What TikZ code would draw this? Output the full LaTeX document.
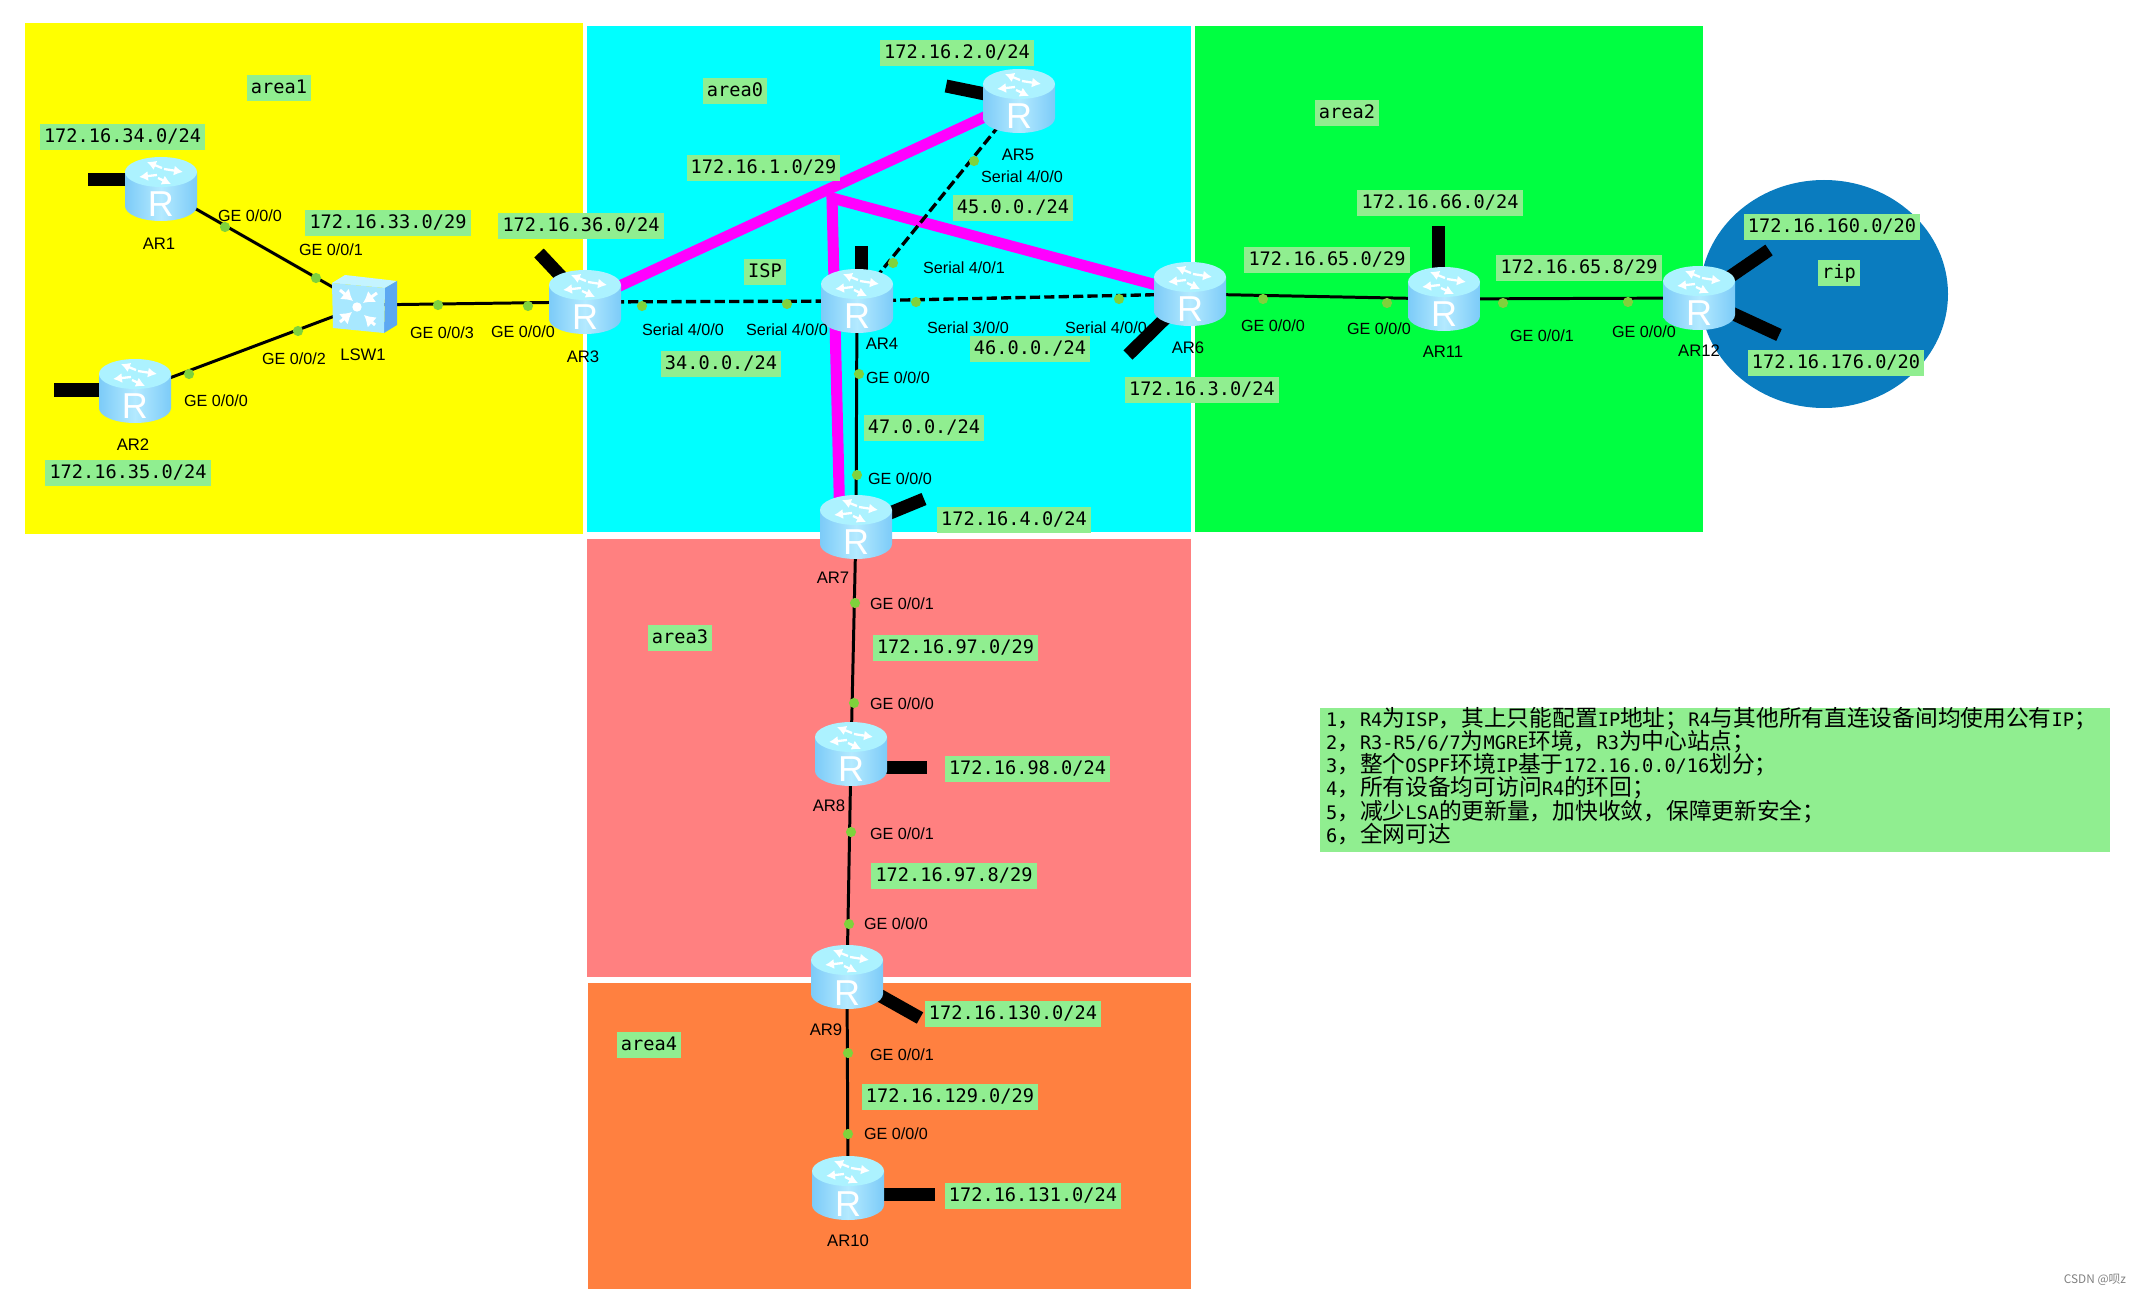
\documentclass[tikz,border=0pt]{standalone}
\usepackage{fontspec}
\setmainfont{Liberation Sans}
\newfontfamily\netfont{DejaVu Sans Mono}
\newfontfamily\cjkfont[Scale=1.22]{Noto Sans CJK SC}
\usetikzlibrary{arrows.meta,backgrounds}
\definecolor{areaone}{HTML}{FFFF00}
\definecolor{areazero}{HTML}{00FFFF}
\definecolor{areatwo}{HTML}{00FF41}
\definecolor{areathree}{HTML}{FF8080}
\definecolor{areafour}{HTML}{FF8040}
\definecolor{ripblue}{HTML}{0A7CBF}
\definecolor{netgreen}{HTML}{90EE90}
\definecolor{portgreen}{HTML}{7FD23C}
\definecolor{mgrepink}{HTML}{FF00FF}
\definecolor{bodyedge}{HTML}{7CCBF8}
\definecolor{bodymid}{HTML}{B4EAFF}
\definecolor{bodytop}{HTML}{ACF2FF}
\definecolor{boxfront}{HTML}{A8E8FF}
\definecolor{boxtop}{HTML}{C4F4FF}
\definecolor{boxside}{HTML}{5CA8F2}
\newcommand{\netsize}{\netfont\fontsize{10.6}{13.15}\selectfont\lineskiplimit=-10pt}
\newcommand{\zh}[1]{{\cjkfont #1}}
\newcommand{\routerart}[2]{%
  \begin{scope}[shift={(#1,#2)}, y=0.02cm]
    \shade[left color=bodyedge, right color=bodyedge, middle color=bodymid]
      (-36,17) -- (-36,-17) arc (180:360:36 and 15) -- (36,17) -- cycle;
    \fill[bodytop] (0,17) ellipse (36 and 15);
    \draw[rarrow] (1,21) -- (-14,27);
    \draw[rarrow] (3,20) -- (22,17);
    \draw[rarrow] (-4,14) -- (-22,12);
    \draw[rarrow] (-3,11) -- (10,5);
  \end{scope}}
\newcommand{\router}[3]{\routerart{#2}{#3}\node[routermark] (#1) at (#2,#3) {R};}
\newcommand{\switchart}[2]{%
  \begin{scope}[shift={(#1,#2)}, y=0.02cm]
    \fill[boxtop] (-32,22) -- (-19,30) -- (33,24) -- (21,17) -- cycle;
    \fill[boxside] (21,17) -- (33,24) -- (33,-20) -- (20,-28) -- cycle;
    \fill[boxfront] (-32,22) -- (21,17) -- (20,-28) -- (-31,-23) -- cycle;
    \fill[white] (-7,-2) circle (4.7);
    \draw[sarrow] (-24,15) -- (-11,4);
    \draw[sarrow] (13,12) -- (-1,2);
    \draw[sarrow] (-24,-17) -- (-12,-7);
    \draw[sarrow] (11,-20) -- (0,-10);
  \end{scope}}
\tikzset{
  rarrow/.style   = {white, line width=1.3pt, -{Latex[length=1.8mm,width=2mm]}},
  sarrow/.style   = {white, line width=1.7pt, -{Latex[length=2.2mm,width=2.8mm]}},
  routermark/.style = {rectangle, inner sep=0pt, minimum width=1.44cm, minimum height=1.28cm,
                     text=white, font=\fontsize{20.5}{20.5}\selectfont, text height=1.12cm,
                     text depth=0pt},
  switchbox/.style = {rectangle, inner sep=0pt, minimum width=1.32cm, minimum height=1.2cm},
  netlbl/.style   = {fill=netgreen, font=\netsize, inner xsep=2.3pt, inner ysep=0pt,
                     minimum height=14.8pt, text height=8pt, text depth=1.5pt, yshift=-0.7pt},
  portlbl/.style  = {font=\fontsize{9.2}{10}\selectfont, inner sep=0pt, yshift=-0.4pt},
  devlbl/.style   = {font=\fontsize{9.5}{10}\selectfont, inner sep=0pt},
  portdot/.style  = {circle, fill=portgreen, inner sep=0pt, minimum size=5.8pt},
  eth/.style      = {line width=1.7pt, black},
  serial/.style   = {line width=1.9pt, black, dash pattern=on 5.8pt off 2.4pt},
  mgre/.style     = {line width=6.3pt, mgrepink, line join=miter},
  stub/.style     = {line width=7.4pt, black},
  notebox/.style  = {font=\netsize, align=left, text width=15.56cm,
                     inner xsep=3pt, inner ysep=0pt, minimum height=2.88cm}
}

\begin{document}
\begin{tikzpicture}[x=0.02cm, y=-0.02cm]
\useasboundingbox (0,0) rectangle (2134,1294);

% ---- areas ----
\begin{scope}[on background layer]
\fill[ripblue] (1824,294) ellipse (124 and 114);
\fill[areaone] (24.5,23) rectangle (582.5,533.5);
\fill[areazero] (587,26) rectangle (1191,532);
\fill[areatwo] (1195,26) rectangle (1703,532);
\fill[areathree] (587,539) rectangle (1191,977);
\fill[areafour] (588,983) rectangle (1191,1289);
\end{scope}

% ---- devices ----
\router{AR1}{161}{189}
\router{AR2}{135}{391}
\router{AR3}{585}{302}
\router{AR4}{857}{301}
\router{AR5}{1019}{101}
\router{AR6}{1190}{294}
\router{AR7}{856}{527}
\router{AR8}{851}{754}
\router{AR9}{847}{977}
\router{AR10}{848}{1188}
\router{AR11}{1444}{299}
\router{AR12}{1699}{298}
\switchart{364}{305}
\node[switchbox] (LSW1) at (364,305) {};

% ---- free ends ----
\coordinate (stubA) at (88,180);
\coordinate (stubB) at (54,390);
\coordinate (stubC) at (539,253);
\coordinate (stubD) at (861,246);
\coordinate (stubE) at (946,86);
\coordinate (stubF) at (1128,355);
\coordinate (stubG) at (924,499);
\coordinate (stubH) at (927,767);
\coordinate (stubI) at (920,1018);
\coordinate (stubJ) at (935,1194);
\coordinate (stubK) at (1438,226);
\coordinate (stubL) at (1769,250);
\coordinate (stubM) at (1779,335);
\coordinate (mgreknee) at (832,198);
\coordinate (mgrefoot) at (840,528);

% ---- links, under the devices ----
\begin{scope}[on background layer]
\draw[stub] (AR1 |- stubA) -- (stubA);
\draw[stub] (AR2 |- stubB) -- (stubB);
\draw[stub] (AR3.center) -- (stubC);
\draw[stub] (AR4 -| stubD) -- (stubD);
\draw[stub] (AR5.center) -- (stubE);
\draw[stub] (AR6.center) -- (stubF);
\draw[stub] (AR7.center) -- (stubG);
\draw[stub] (AR8 |- stubH) -- (stubH);
\draw[stub] (AR9.center) -- (stubI);
\draw[stub] (AR10 |- stubJ) -- (stubJ);
\draw[stub] (AR11 -| stubK) -- (stubK);
\draw[stub] (AR12.center) -- (stubL);
\draw[stub] (AR12.center) -- (stubM);
\draw[mgre] (AR3.center) -- (AR5.center);
\draw[mgre] (mgrefoot) -- (mgreknee) -- (AR6.center);
\draw[eth] (AR1.center) -- (LSW1.center);
\draw[eth] (AR2.center) -- (LSW1.center);
\draw[eth] (LSW1.center) -- (AR3.center);
\draw[serial] (AR3.center) -- (AR4.center);
\draw[serial] (AR4.center) -- (AR6.center);
\draw[serial] (AR4.center) -- (AR5.center);
\draw[eth] (AR4.center) -- (AR7.center);
\draw[eth] (AR7.center) -- (AR8.center);
\draw[eth] (AR8.center) -- (AR9.center);
\draw[eth] (AR9.center) -- (AR10.center);
\draw[eth] (AR6.center) -- (AR11.center);
\draw[eth] (AR11.center) -- (AR12.center);
\end{scope}

% ---- port dots ----
\node[portdot] (d1) at (225,227) {};
\node[portdot] (d2) at (316,278) {};
\node[portdot] (d3) at (189,374) {};
\node[portdot] (d4) at (298,331) {};
\node[portdot] (d5) at (438,305) {};
\node[portdot] (d6) at (528,306) {};
\node[portdot] (d7) at (642,306) {};
\node[portdot] (d8) at (787,304) {};
\node[portdot] (d9) at (916,302) {};
\node[portdot] (d10) at (1119,299) {};
\node[portdot] (d11) at (893,263) {};
\node[portdot] (d12) at (974,161) {};
\node[portdot] (d13) at (859,374) {};
\node[portdot] (d14) at (857,475) {};
\node[portdot] (d15) at (855,603) {};
\node[portdot] (d16) at (854,703) {};
\node[portdot] (d17) at (851,832) {};
\node[portdot] (d18) at (849,924) {};
\node[portdot] (d19) at (848,1053) {};
\node[portdot] (d20) at (848,1134) {};
\node[portdot] (d21) at (1263,299) {};
\node[portdot] (d22) at (1387,303) {};
\node[portdot] (d23) at (1503,303) {};
\node[portdot] (d24) at (1628,302) {};

% ---- port labels ----
\node[portlbl] (p1) at (250,215) {GE 0/0/0};
\node[portlbl] (p2) at (331,249) {GE 0/0/1};
\node[portlbl] (p3) at (216,400) {GE 0/0/0};
\node[portlbl] (p4) at (294,358) {GE 0/0/2};
\node[portlbl] (p5) at (442,332) {GE 0/0/3};
\node[portlbl] (p6) at (523,331) {GE 0/0/0};
\node[portlbl] (p7) at (683,329) {Serial 4/0/0};
\node[portlbl] (p8) at (787,329) {Serial 4/0/0};
\node[portlbl] (p9) at (968,327) {Serial 3/0/0};
\node[portlbl] (p10) at (1106,327) {Serial 4/0/0};
\node[portlbl] (p11) at (964,267) {Serial 4/0/1};
\node[portlbl] (p12) at (1022,176) {Serial 4/0/0};
\node[portlbl] (p13) at (898,377) {GE 0/0/0};
\node[portlbl] (p14) at (900,478) {GE 0/0/0};
\node[portlbl] (p15) at (902,603) {GE 0/0/1};
\node[portlbl] (p16) at (902,703) {GE 0/0/0};
\node[portlbl] (p17) at (902,833) {GE 0/0/1};
\node[portlbl] (p18) at (896,923) {GE 0/0/0};
\node[portlbl] (p19) at (902,1054) {GE 0/0/1};
\node[portlbl] (p20) at (896,1133) {GE 0/0/0};
\node[portlbl] (p21) at (1273,325) {GE 0/0/0};
\node[portlbl] (p22) at (1379,328) {GE 0/0/0};
\node[portlbl] (p23) at (1542,335) {GE 0/0/1};
\node[portlbl] (p24) at (1644,331) {GE 0/0/0};

% ---- device names ----
\node[devlbl] (n1) at (159,244) {AR1};
\node[devlbl] (n2) at (133,445) {AR2};
\node[devlbl] (n3) at (583,357) {AR3};
\node[devlbl] (n4) at (882,344) {AR4};
\node[devlbl] (n5) at (1018,155) {AR5};
\node[devlbl] (n6) at (1188,348) {AR6};
\node[devlbl] (n7) at (833,578) {AR7};
\node[devlbl] (n8) at (829,806) {AR8};
\node[devlbl] (n9) at (826,1030) {AR9};
\node[devlbl] (n10) at (848,1241) {AR10};
\node[devlbl] (n11) at (1443,352) {AR11};
\node[devlbl] (n12) at (1699,351) {AR12};
\node[devlbl] (n13) at (363,355) {LSW1};

% ---- subnets and area names ----
\node[netlbl] (area1) at (279,87) {area1};
\node[netlbl] (area0) at (735,90) {area0};
\node[netlbl] (area2) at (1347,112) {area2};
\node[netlbl] (area3) at (680,637) {area3};
\node[netlbl] (area4) at (649,1044) {area4};
\node[netlbl] (rip) at (1839,272) {rip};
\node[netlbl] (isp) at (765,271) {ISP};
\node[netlbl] (s1) at (122.5,136) {172.16.34.0/24};
\node[netlbl] (s2) at (388,222) {172.16.33.0/29};
\node[netlbl] (s3) at (581,225) {172.16.36.0/24};
\node[netlbl] (s4) at (128,472) {172.16.35.0/24};
\node[netlbl] (s5) at (957,52) {172.16.2.0/24};
\node[netlbl] (s6) at (763.5,167) {172.16.1.0/29};
\node[netlbl] (s7) at (1013,207) {45.0.0./24};
\node[netlbl] (s8) at (721,363) {34.0.0./24};
\node[netlbl] (s9) at (1030,348) {46.0.0./24};
\node[netlbl] (s10) at (1202,389) {172.16.3.0/24};
\node[netlbl] (s11) at (924,427) {47.0.0./24};
\node[netlbl] (s12) at (1014,518.5) {172.16.4.0/24};
\node[netlbl] (s13) at (1440,202) {172.16.66.0/24};
\node[netlbl] (s14) at (1327,259) {172.16.65.0/29};
\node[netlbl] (s15) at (1579,267) {172.16.65.8/29};
\node[netlbl] (s16) at (1832,226) {172.16.160.0/20};
\node[netlbl] (s17) at (1836,362) {172.16.176.0/20};
\node[netlbl] (s18) at (955.5,646.5) {172.16.97.0/29};
\node[netlbl] (s19) at (1027.5,768) {172.16.98.0/24};
\node[netlbl] (s20) at (954,875) {172.16.97.8/29};
\node[netlbl] (s21) at (1013,1013) {172.16.130.0/24};
\node[netlbl] (s22) at (950,1096) {172.16.129.0/29};
\node[netlbl] (s23) at (1033,1195) {172.16.131.0/24};

% ---- requirements ----
\fill[netgreen] (1320,708) rectangle (2110,852);
\node[notebox] (notes) at (1715,776) {%
  1\zh{，}R4\zh{为}ISP\zh{，其上只能配置}IP\zh{地址；}R4\zh{与其他所有直连设备间均使用公有}IP\zh{；}\\
  2\zh{，}R3-R5/6/7\zh{为}MGRE\zh{环境，}R3\zh{为中心站点；}\\
  3\zh{，整个}OSPF\zh{环境}IP\zh{基于}172.16.0.0/16\zh{划分；}\\
  4\zh{，所有设备均可访问}R4\zh{的环回；}\\
  5\zh{，减少}LSA\zh{的更新量，加快收敛，保障更新安全；}\\
  6\zh{，全网可达}};

\node[font=\cjkfont\fontsize{5.5}{6}\selectfont, text=black!50, inner sep=0pt] (mark) at (2095,1280) {CSDN @呗z};
\end{tikzpicture}
\end{document}
